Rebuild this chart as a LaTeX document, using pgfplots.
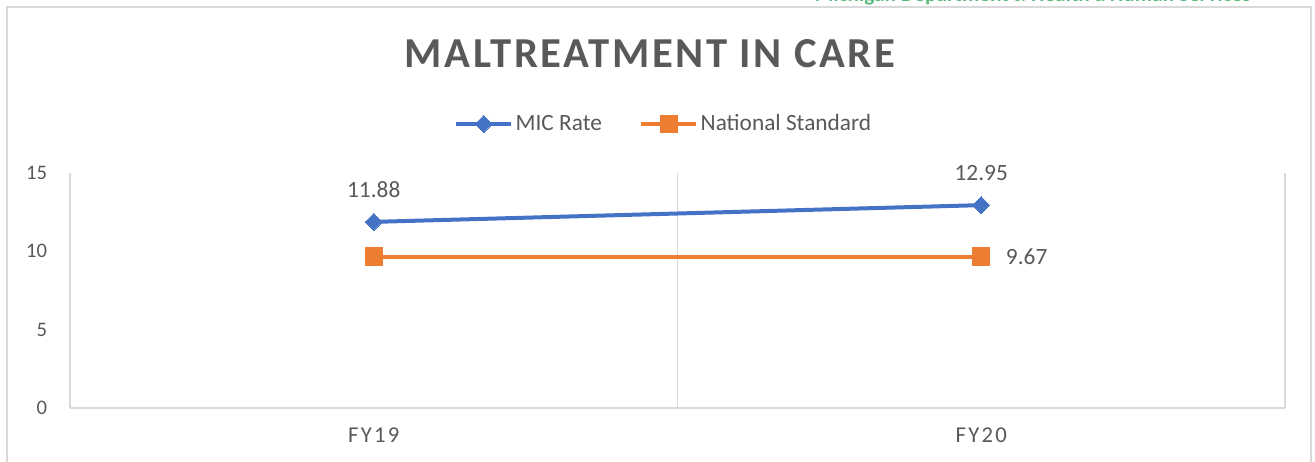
\documentclass[border=0pt]{standalone}
\usepackage{pgfplots}
\pgfplotsset{compat=1.18}
\usepackage{fontspec}
\setmainfont{Carlito}
\newfontfamily\spacedfont[LetterSpace=10]{Carlito}
\newfontfamily\titlefont[LetterSpace=6]{Carlito}
\definecolor{txt}{HTML}{595959}
\definecolor{gridc}{HTML}{D9D9D9}
\definecolor{micblue}{HTML}{4472C4}
\definecolor{natorange}{HTML}{ED7D31}
\definecolor{mdhhs}{HTML}{5DBA7D}
\begin{document}
\begin{tikzpicture}
\useasboundingbox (0,0) rectangle (986.25pt,-345.75pt);
% outer chart border
\draw[gridc, line width=1pt] (5.25pt,-400pt) -- (5.25pt,-5.25pt) -- (983.25pt,-5.25pt) -- (983.25pt,-400pt);
% header text partially cut off
\node[anchor=base west, inner sep=0pt, text=mdhhs, font=\fontsize{16}{16}\selectfont\bfseries] at (611pt,-1.2pt) {Michigan Department {\fontsize{11}{11}\selectfont of} Health {\fontsize{11}{11}\selectfont \&} Human Services};
% title
\node[text=txt, font=\fontsize{32}{32}\selectfont\titlefont\bfseries] at (487.5pt,-40.5pt) {MALTREATMENT IN CARE};
\begin{axis}[
  at={(52.5pt,-306pt)}, anchor=south west,
  scale only axis, width=911.25pt, height=176.25pt,
  xmin=-0.5, xmax=1.5, ymin=0, ymax=15,
  xtick={0,1}, xticklabels={FY19,FY20},
  ytick={0,5,10,15},
  /pgf/number format/assume math mode=true,
  minor xtick={-0.5,0.5,1.5},
  xminorgrids=true,
  minor grid style={gridc, line width=1pt},
  major tick length=0pt, minor tick length=0pt,
  axis line style={draw=none},
  clip=false,
  yticklabel style={anchor=east, inner sep=0pt, xshift=-17pt, text=txt, font=\fontsize{15.5}{15.5}\selectfont},
  xticklabel style={anchor=north, inner sep=0pt, yshift=-15pt, text=txt, font=\fontsize{17}{17}\selectfont\spacedfont},
  legend columns=2,
  legend style={at={(0.489,1.209)}, anchor=center, draw=none, fill=none,
    font=\fontsize{17.5}{17.5}\selectfont, text=txt,
    /tikz/every even column/.append style={column sep=26pt},
    cells={anchor=west}, inner sep=0pt},
  legend image code/.code={\draw[mark repeat=2,mark phase=2] plot coordinates {(0pt,0pt) (20.5pt,0pt) (41pt,0pt)};},
]
\draw[gridc, line width=1pt] (axis cs:-0.5,0) -- (axis cs:1.5,0);
\addplot[micblue, line width=3pt, mark=square*, mark size=4.5pt, mark options={rotate=45, line width=0pt, fill=micblue}]
  coordinates {(0,11.88) (1,12.95)};
\addlegendentry{MIC Rate}
\addplot[natorange, line width=3pt, mark=square*, mark size=6.4pt, mark options={line width=0pt, fill=natorange}]
  coordinates {(0,9.67) (1,9.67)};
\addlegendentry{National Standard}
\node[text=txt, font=\fontsize{17.5}{17.5}\selectfont, yshift=24pt] at (axis cs:0,11.88) {11.88};
\node[text=txt, font=\fontsize{17.5}{17.5}\selectfont, yshift=24pt] at (axis cs:1,12.95) {12.95};
\node[text=txt, font=\fontsize{17.5}{17.5}\selectfont, anchor=west, xshift=15pt] at (axis cs:1,9.67) {9.67};
\end{axis}
\end{tikzpicture}
\end{document}
